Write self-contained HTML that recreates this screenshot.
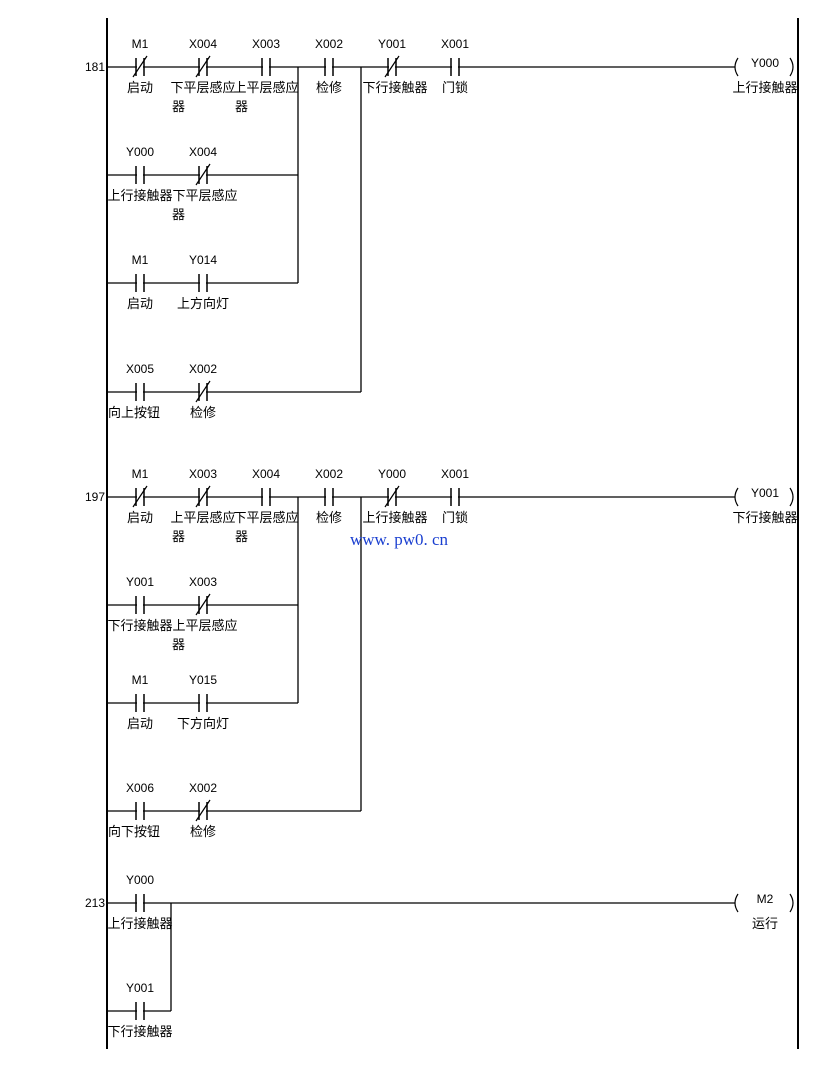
<!DOCTYPE html>
<html><head><meta charset="utf-8"><style>
html,body{margin:0;padding:0;background:#fff;}
svg{display:block}
text{font-family:"Liberation Sans","Noto Sans CJK SC",sans-serif;fill:#000}
.a{font-size:12px;text-anchor:middle}
.b{font-size:13px;text-anchor:middle}
.l{font-size:13px}
.n{font-size:12px;text-anchor:end}
</style></head><body>
<svg width="828" height="1077" viewBox="0 0 828 1077" xmlns="http://www.w3.org/2000/svg">
<defs>
<g id="no"><rect x="-3" y="-3" width="6" height="6" fill="#fff"/><line x1="-4" y1="-9" x2="-4" y2="9" stroke="#000" stroke-width="1.5"/><line x1="4" y1="-9" x2="4" y2="9" stroke="#000" stroke-width="1.5"/></g>
<g id="nc"><use href="#no"/><line x1="-7" y1="10" x2="7" y2="-11" stroke="#000" stroke-width="1.2"/></g>
<g id="coil"><path d="M3,-9 Q-3,0 3,9" fill="none" stroke="#000" stroke-width="1.2"/><path d="M55,-9 Q61,0 55,9" fill="none" stroke="#000" stroke-width="1.2"/></g>
</defs>
<g stroke="#000" stroke-width="1.3" fill="none">
<line x1="107" y1="18" x2="107" y2="1049" stroke-width="2"/>
<line x1="798" y1="18" x2="798" y2="1049" stroke-width="2"/>
<line x1="107" y1="67" x2="735" y2="67"/>
<line x1="107" y1="175" x2="298" y2="175"/>
<line x1="107" y1="283" x2="298" y2="283"/>
<line x1="107" y1="392" x2="361" y2="392"/>
<line x1="298" y1="67" x2="298" y2="283"/>
<line x1="361" y1="67" x2="361" y2="392"/>
<line x1="107" y1="497" x2="735" y2="497"/>
<line x1="107" y1="605" x2="298" y2="605"/>
<line x1="107" y1="703" x2="298" y2="703"/>
<line x1="107" y1="811" x2="361" y2="811"/>
<line x1="298" y1="497" x2="298" y2="703"/>
<line x1="361" y1="497" x2="361" y2="811"/>
<line x1="107" y1="903" x2="735" y2="903"/>
<line x1="107" y1="1011" x2="171" y2="1011"/>
<line x1="171" y1="903" x2="171" y2="1011"/>
</g>
<use href="#nc" x="140" y="67"/><use href="#nc" x="203" y="67"/><use href="#no" x="266" y="67"/>
<use href="#no" x="329" y="67"/><use href="#nc" x="392" y="67"/><use href="#no" x="455" y="67"/>
<use href="#coil" x="735" y="67"/>
<use href="#no" x="140" y="175"/><use href="#nc" x="203" y="175"/>
<use href="#no" x="140" y="283"/><use href="#no" x="203" y="283"/>
<use href="#no" x="140" y="392"/><use href="#nc" x="203" y="392"/>
<use href="#nc" x="140" y="497"/><use href="#nc" x="203" y="497"/><use href="#no" x="266" y="497"/>
<use href="#no" x="329" y="497"/><use href="#nc" x="392" y="497"/><use href="#no" x="455" y="497"/>
<use href="#coil" x="735" y="497"/>
<use href="#no" x="140" y="605"/><use href="#nc" x="203" y="605"/>
<use href="#no" x="140" y="703"/><use href="#no" x="203" y="703"/>
<use href="#no" x="140" y="811"/><use href="#nc" x="203" y="811"/>
<use href="#no" x="140" y="903"/><use href="#no" x="140" y="1011"/>
<use href="#coil" x="735" y="903"/>

<text class="n" x="105" y="71">181</text>
<text class="n" x="105" y="501">197</text>
<text class="n" x="105" y="907">213</text>

<text class="a" x="140" y="48">M1</text><text class="a" x="203" y="48">X004</text><text class="a" x="266" y="48">X003</text>
<text class="a" x="329" y="48">X002</text><text class="a" x="392" y="48">Y001</text><text class="a" x="455" y="48">X001</text>
<text class="b" x="140" y="92">启动</text>
<text class="b" x="203" y="92">下平层感应</text><text class="l" x="172" y="111">器</text>
<text class="b" x="266" y="92">上平层感应</text><text class="l" x="235" y="111">器</text>
<text class="b" x="329" y="92">检修</text><text class="b" x="395" y="92">下行接触器</text><text class="b" x="455" y="92">门锁</text>
<text class="a" x="765" y="67">Y000</text><text class="b" x="765" y="92">上行接触器</text>
<text class="a" x="140" y="156">Y000</text><text class="a" x="203" y="156">X004</text>
<text class="b" x="140" y="200">上行接触器</text><text class="b" x="205" y="200">下平层感应</text><text class="l" x="172" y="219">器</text>
<text class="a" x="140" y="264">M1</text><text class="a" x="203" y="264">Y014</text>
<text class="b" x="140" y="308">启动</text><text class="b" x="203" y="308">上方向灯</text>
<text class="a" x="140" y="373">X005</text><text class="a" x="203" y="373">X002</text>
<text class="b" x="134" y="417">向上按钮</text><text class="b" x="203" y="417">检修</text>

<text class="a" x="140" y="478">M1</text><text class="a" x="203" y="478">X003</text><text class="a" x="266" y="478">X004</text>
<text class="a" x="329" y="478">X002</text><text class="a" x="392" y="478">Y000</text><text class="a" x="455" y="478">X001</text>
<text class="b" x="140" y="522">启动</text>
<text class="b" x="203" y="522">上平层感应</text><text class="l" x="172" y="541">器</text>
<text class="b" x="266" y="522">下平层感应</text><text class="l" x="235" y="541">器</text>
<text class="b" x="329" y="522">检修</text><text class="b" x="395" y="522">上行接触器</text><text class="b" x="455" y="522">门锁</text>
<text class="a" x="765" y="497">Y001</text><text class="b" x="765" y="522">下行接触器</text>
<text x="350" y="545" font-size="17" style="fill:#1a3fd0;font-family:'Liberation Serif',serif">www. pw0. cn</text>
<text class="a" x="140" y="586">Y001</text><text class="a" x="203" y="586">X003</text>
<text class="b" x="140" y="630">下行接触器</text><text class="b" x="205" y="630">上平层感应</text><text class="l" x="172" y="649">器</text>
<text class="a" x="140" y="684">M1</text><text class="a" x="203" y="684">Y015</text>
<text class="b" x="140" y="728">启动</text><text class="b" x="203" y="728">下方向灯</text>
<text class="a" x="140" y="792">X006</text><text class="a" x="203" y="792">X002</text>
<text class="b" x="134" y="836">向下按钮</text><text class="b" x="203" y="836">检修</text>

<text class="a" x="140" y="884">Y000</text><text class="b" x="140" y="928">上行接触器</text>
<text class="a" x="765" y="903">M2</text><text class="b" x="765" y="928">运行</text>
<text class="a" x="140" y="992">Y001</text><text class="b" x="140" y="1036">下行接触器</text>
</svg>
</body></html>
